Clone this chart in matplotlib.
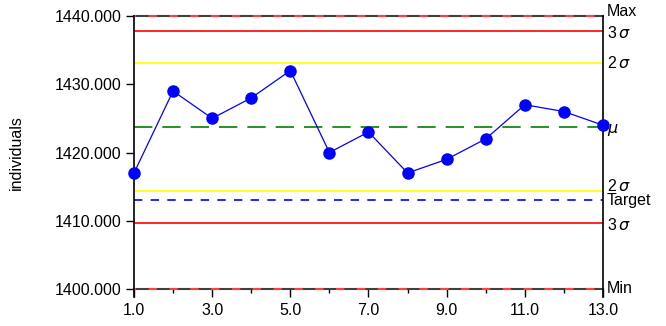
import numpy as np
import matplotlib.pyplot as plt

plt.rcParams['font.family'] = ['Liberation Sans', 'DejaVu Sans']

# Individual measurements
samples = np.arange(1, 14)
individuals = [1417, 1429, 1425, 1428, 1432, 1420, 1423, 1417, 1419, 1422, 1427, 1426, 1424]

# Control limits and specification lines
spec_max = 1440.0
spec_min = 1400.0
target = 1413.0
mean = 1423.77
upper_3s = 1437.8
upper_2s = 1433.12
lower_2s = 1414.42
lower_3s = 1409.74

fig = plt.figure(figsize=(6.66, 3.26), dpi=100)
ax = fig.add_axes([0.2012, 0.1135, 0.7042, 0.8374])

# Spec limits: grey line with red dashes on top
for y in (spec_max, spec_min):
    ax.axhline(y, color='#404040', lw=1.5, zorder=2, clip_on=False)
    ax.axhline(y, color='#ff4040', lw=1.5, ls=(3, (4, 6)), zorder=2, clip_on=False)

ax.axhline(upper_3s, color='red', lw=1.2)
ax.axhline(lower_3s, color='red', lw=1.2)
ax.axhline(upper_2s, color='#ffff00', lw=1.2)
ax.axhline(lower_2s, color='#ffff00', lw=1.2)
ax.axhline(mean, color='green', lw=1.2, ls=(0, (11, 6)))
ax.axhline(target, color='blue', lw=1.2, ls=(0, (5, 5)))

ax.plot(samples, individuals, color='blue', lw=0.9, marker='o', ms=8,
        markerfacecolor='blue', markeredgecolor='blue', zorder=4, clip_on=False)

ax.set_xlim(1, 13)
ax.set_ylim(spec_min, spec_max)
ax.set_xticks(np.arange(1, 14, 2))
ax.set_xticklabels([f'{v:.1f}' for v in np.arange(1, 14, 2)])
ax.set_xticks(np.arange(2, 13, 2), minor=True)
ax.set_yticks(np.arange(1400, 1441, 10))
ax.set_yticklabels([f'{v:.3f}' for v in np.arange(1400, 1441, 10)])
ax.tick_params(axis='both', direction='out', length=6, width=1, labelsize=11.5, colors='black')
ax.tick_params(axis='x', which='minor', length=3, width=1)
ax.tick_params(axis='x', pad=4)
ax.tick_params(axis='y', pad=3)

ax.spines['top'].set_visible(False)
ax.spines['bottom'].set_visible(False)
for side in ('left', 'right'):
    ax.spines[side].set_linewidth(1.2)
    ax.spines[side].set_bounds(spec_min - 1.2, spec_max)

ax.set_ylabel('individuals', fontsize=11.5, labelpad=22)

# Labels along the right edge
right_labels = [
    (spec_max + 0.6, 'Max'),
    (upper_3s - 0.3, '3$\\,\\sigma$'),
    (upper_2s, '2$\\,\\sigma$'),
    (mean - 0.4, '$\\mu$'),
    (lower_2s + 0.7, '2$\\,\\sigma$'),
    (target - 0.1, 'Target'),
    (lower_3s - 0.4, '3$\\,\\sigma$'),
    (spec_min, 'Min'),
]
for y, txt in right_labels:
    ax.text(1.008, y, txt, transform=ax.get_yaxis_transform(), va='center', ha='left',
            fontsize=11.5)

fig.savefig('out.png', dpi=100)
